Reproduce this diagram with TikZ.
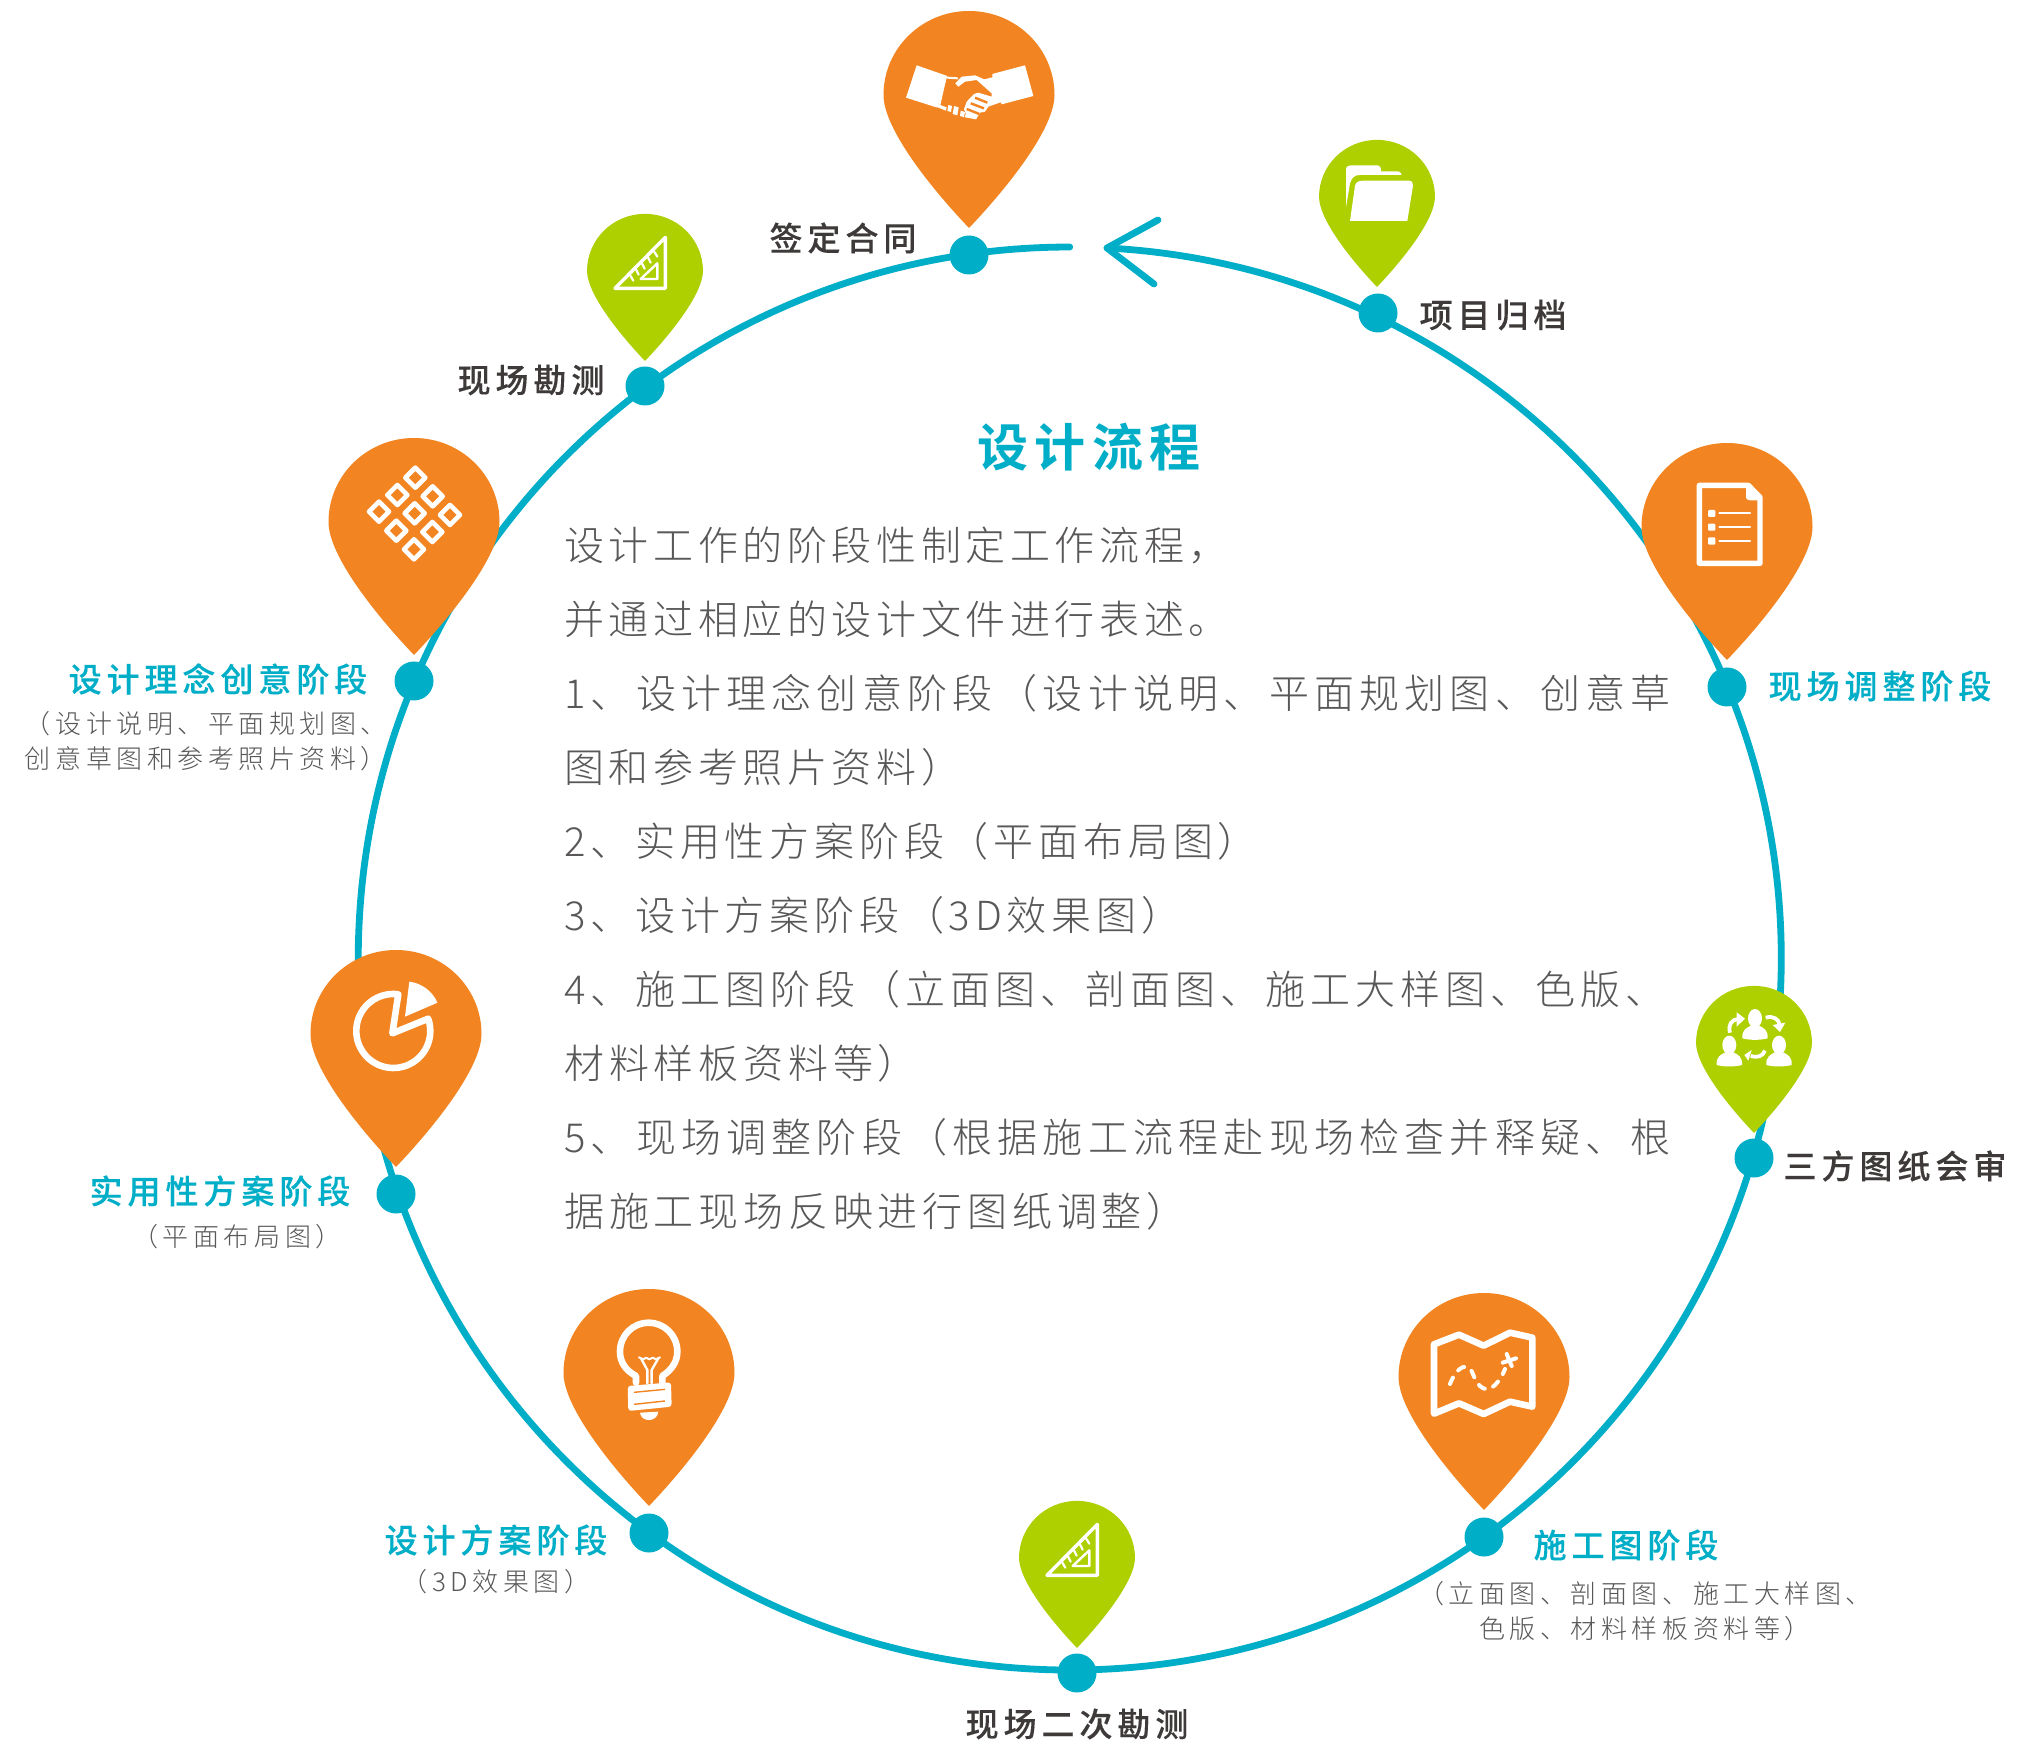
\documentclass[tikz,border=0pt]{standalone}
\usepackage{fontspec}
\newfontfamily\bodyf[LetterSpace=13]{Noto Sans CJK SC Light}
\newfontfamily\bodyg[LetterSpace=12]{Noto Sans CJK SC Light}
\newfontfamily\bodyh[LetterSpace=11.5]{Noto Sans CJK SC Light}
\newfontfamily\bodyi[LetterSpace=12.5]{Noto Sans CJK SC Light}
\newfontfamily\smallf[LetterSpace=17.5]{Noto Sans CJK SC Light}
\newfontfamily\boldf[LetterSpace=15,FakeBold=0.25]{Noto Sans CJK SC Medium}
\newfontfamily\titlef[LetterSpace=12]{Noto Sans CJK SC Bold}
\definecolor{teal}{HTML}{00AEC7}
\definecolor{pinor}{HTML}{F28421}
\definecolor{pingr}{HTML}{AECF00}
\definecolor{darktx}{HTML}{3E3A39}
\definecolor{graytx}{HTML}{595757}
\tikzset{
  ring/.style={draw=teal,line width=3.4pt,line cap=round,line join=round},
  dotn/.style={circle,fill=teal,inner sep=0pt,minimum size=19.5pt},
  zm/.style 2 args={shift={(#1,#2)},scale=1/3},
  body/.style={anchor=west,inner sep=0pt,text=graytx,font=\bodyf\fontsize{20pt}{20pt}\selectfont},
  bodyG/.style={body,font=\bodyg\fontsize{20pt}{20pt}\selectfont},
  bodyH/.style={body,font=\bodyh\fontsize{20pt}{20pt}\selectfont},
  bodyI/.style={body,font=\bodyi\fontsize{20pt}{20pt}\selectfont},
  lab/.style={anchor=center,inner sep=0pt,text=darktx,font=\boldf\fontsize{16.5pt}{16.5pt}\selectfont},
  tlab/.style={lab,text=teal},
  smalllab/.style={anchor=center,inner sep=0pt,text=graytx,font=\smallf\fontsize{13pt}{13pt}\selectfont},
  wl/.style={draw=white,line join=round,line cap=round,line width=#1pt},
}
\newcommand\mkpin[4]{\begin{scope}[shift={(#1,#2)},scale=#3]
  \fill[#4] (0,0) .. controls (-40,-42) and (-85.5,-100) .. (-85.5,-133)
   .. controls (-85.5,-179.4) and (-47.2,-217) .. (0,-217)
   .. controls (47.2,-217) and (85.5,-179.4) .. (85.5,-133)
   .. controls (85.5,-100) and (40,-42) .. (0,0) -- cycle;
 \end{scope}}
\newcommand\rulericon[2]{\begin{scope}[zm={#1}{#2}]
  \draw[wl=1.7] (105,235) -- (256,82) -- (256,235) -- cycle;
  \draw[wl=1.2] (182,207) -- (232,160) -- (232,207) -- cycle;
  \foreach \a/\b/\c/\d in {150/195/160/212,168/178/176/194,186/160/194/176,204/142/212/158,222/124/232/140}
    \draw[wl=1.1] (\a,\b) -- (\c,\d);
 \end{scope}}
\begin{document}
\begin{tikzpicture}[x=0.5pt,y=-0.5pt]
\useasboundingbox (0,0) rectangle (2026,1759);
\fill[white] (0,0) rectangle (2026,1759);
% ring
\coordinate (tip) at (1107,248);
\coordinate (ha) at (1158,220);
\coordinate (hb) at (1154,284);
\draw[ring] (tip) arc[start angle=273,end angle=630,radius=711.5];
\draw[ring] (ha) -- (tip) -- (hb);
% pins
\mkpin{969}{228}{1}{pinor}
\mkpin{1377}{287}{0.678}{pingr}
\mkpin{1727}{660}{1}{pinor}
\mkpin{1754}{1133}{0.678}{pingr}
\mkpin{1484}{1510}{1}{pinor}
\mkpin{1077}{1648}{0.678}{pingr}
\mkpin{649}{1506}{1}{pinor}
\mkpin{396}{1167}{1}{pinor}
\mkpin{414}{655}{1}{pinor}
\mkpin{645}{361}{0.678}{pingr}
% dots
\node[dotn] (d1) at (969,255) {};
\node[dotn] (d2) at (1378,313) {};
\node[dotn] (d3) at (1727,687) {};
\node[dotn] (d4) at (1754,1158) {};
\node[dotn] (d5) at (1484,1537) {};
\node[dotn] (d6) at (1077,1673) {};
\node[dotn] (d7) at (649,1533) {};
\node[dotn] (d8) at (396,1194) {};
\node[dotn] (d9) at (414,681) {};
\node[dotn] (d10) at (645,386) {};
% handshake
\begin{scope}[zm={850}{0}]
 \fill[white] (200,196) -- (292,228) -- (262,323) -- (168,293) -- cycle;
 \fill[white] (403,238) -- (427,232) -- (427,222) -- (525,196) -- (550,288) -- (455,313) -- (452,307) -- (415,320) -- (405,335) -- (390,338) -- (378,358) -- (345,352) -- (347,340) -- (342,328) -- (350,305) -- (372,282) -- (385,278) -- (425,290) -- (425,280) -- (380,240) -- (345,245) -- (325,260) -- (316,250) -- (335,230) -- (375,226) -- cycle;
 \draw[pinor,line width=1.2pt] (375,293) -- (412,308) (362,310) -- (402,325) (350,327) -- (388,342);
 \draw[wl=1] (292,233) -- (322,235);
 \draw[wl=1] (285,240) -- (268,315);
 \fill[white] (265,313) -- (290,322) -- (288,332) -- (263,322) -- cycle;
 \fill[white] (295,315) -- (306,318) -- (303,336) -- (292,333) -- cycle;
 \fill[white] (312,318) -- (326,322) -- (322,346) -- (308,342) -- cycle;
 \fill[white] (332,332) -- (345,336) -- (342,352) -- (330,348) -- cycle;
\end{scope}
% folder
\begin{scope}[zm={1250}{120}]
 \fill[white] (288,262) -- (288,150) .. controls (288,140) and (294,136) .. (302,136) -- (380,136) .. controls (390,136) and (393,142) .. (393,154) -- (440,154) .. controls (450,154) and (453,158) .. (455,165) -- (330,165) .. controls (315,165) and (305,172) .. (300,190) -- cycle;
 \fill[white] (300,303) -- (315,197) .. controls (318,186) and (326,182) .. (340,182) -- (475,182) .. controls (486,182) and (490,188) .. (489,197) -- (472,303) -- cycle;
\end{scope}
% document
\begin{scope}[zm={1620}{430}]
 \draw[wl=2.7] (238,166) -- (385,166) -- (420,202) -- (420,400) -- (238,400) -- cycle;
 \fill[white] (378,170) -- (378,198) .. controls (378,208) and (382,211) .. (390,211) -- (420,211) -- (385,170) -- cycle;
 \fill[white,rounded corners=0.5pt] (264,240) rectangle (286,261) (264,281) rectangle (286,302) (264,322) rectangle (286,344);
 \draw[wl=1] (298,250) -- (390,250) (298,291) -- (390,291) (298,332) -- (390,332);
\end{scope}
% people
\begin{scope}[zm={1680}{970}]
 \foreach \cx/\cy in {225/145,148/225,297/225}{
  \fill[white] (\cx,\cy) ellipse[x radius=21,y radius=28];
  \fill[white] (\cx-38,\cy+60) .. controls (\cx-40,\cy+35) and (\cx-25,\cy+28) .. (\cx-12,\cy+22) -- (\cx+12,\cy+22) .. controls (\cx+25,\cy+28) and (\cx+40,\cy+35) .. (\cx+38,\cy+60) .. controls (\cx+15,\cy+66) and (\cx-15,\cy+66) .. (\cx-38,\cy+60) -- cycle;
 }
 \draw[wl=1.9,line cap=butt] (150,188) .. controls (143,165) and (155,148) .. (175,147);
 \fill[white] (170,127) -- (195,146) -- (170,170) -- cycle;
 \draw[wl=1.9,line cap=butt] (257,143) .. controls (280,136) and (297,148) .. (299,165);
 \fill[white] (278,165) -- (316,158) -- (300,186) -- cycle;
 \draw[wl=1.9,line cap=butt] (255,242) .. controls (248,260) and (230,264) .. (212,258);
 \fill[white] (215,240) -- (193,255) -- (205,272) -- cycle;
\end{scope}
% map
\begin{scope}[zm={1390}{1290}]
 \draw[wl=3.3] (132,163) -- (207,134) -- (281,167) -- (360,128) -- (427,143) -- (427,350) -- (360,335) -- (281,372) -- (207,340) -- (132,371) -- cycle;
 \draw[wl=2,dash pattern=on 3.5pt off 4.5pt] (180,282) .. controls (200,230) and (235,210) .. (250,255) .. controls (265,295) and (290,310) .. (315,285) .. controls (330,270) and (338,255) .. (345,237);
 \draw[wl=2] (338,218) -- (378,205) (350,192) -- (365,228);
\end{scope}
% bulb
\begin{scope}[zm={560}{1290}]
 \draw[wl=3.3] (228,278) -- (228,258) .. controls (195,240) and (180,215) .. (180,185) .. controls (180,135) and (220,98) .. (266,98) .. controls (312,98) and (352,135) .. (352,185) .. controls (352,215) and (335,240) .. (307,258) -- (307,278);
 \draw[wl=1] (237,202) -- (250,208) -- (258,203) -- (268,208) -- (278,203) -- (288,208) -- (300,202);
 \draw[wl=1.2] (243,205) -- (262,240) -- (262,280) (295,205) -- (275,240) -- (275,280);
 \fill[white,rounded corners=1.5pt] (203,288) -- (333,277) -- (335,350) -- (205,363) -- cycle;
 \draw[pinor,line width=0.7pt] (222,307) -- (315,298) (222,343) -- (315,333);
 \fill[white] (240,368) .. controls (243,398) and (292,398) .. (295,365) -- cycle;
\end{scope}
% pie
\begin{scope}[zm={310}{950}]
 \draw[wl=3.3] (265,133) arc[start angle=277.8,end angle=-19.4,radius=111] -- (247,250) -- cycle;
 \fill[white,line join=round] (298,95) arc[start angle=277,end angle=336.6,radius=106] -- (285,200) -- cycle;
\end{scope}
% diamonds
\begin{scope}[zm={340}{440}]
 \foreach \cx/\cy in {226/113,172/165,117/215,278/169,224/220,169/272,330/225,277/276,222/328}
  \draw[wl=2.3] (\cx,\cy-30) -- (\cx+30,\cy) -- (\cx,\cy+30) -- (\cx-30,\cy) -- cycle;
\end{scope}
% rulers
\rulericon{580}{210}
\rulericon{1012}{1497}
% title and body
\node[anchor=center,inner sep=0pt,text=teal,font=\titlef\fontsize{25.5pt}{25.5pt}\selectfont] (title) at (1089,447) {设计流程};
\node[bodyH] (b1) at (564,545) {设计工作的阶段性制定工作流程，};
\node[bodyH] (b2) at (564,619) {并通过相应的设计文件进行表述。};
\node[body] (b3) at (564,693) {1、设计理念创意阶段（设计说明、平面规划图、创意草};
\node[bodyH] (b4) at (564,767) {图和参考照片资料）};
\node[bodyG] (b5) at (564,841) {2、实用性方案阶段（平面布局图）};
\node[bodyG] (b6) at (564,915) {3、设计方案阶段（3D效果图）};
\node[bodyI] (b7) at (564,989) {4、施工图阶段（立面图、剖面图、施工大样图、色版、};
\node[bodyG] (b8) at (564,1063) {材料样板资料等）};
\node[body] (b9) at (564,1137) {5、现场调整阶段（根据施工流程赴现场检查并释疑、根};
\node[bodyG] (b10) at (564,1211) {据施工现场反映进行图纸调整）};
% labels
\node[lab] (l1) at (843,238) {签定合同};
\node[lab] (l2) at (1493,315) {项目归档};
\node[tlab] (l3) at (1880,686) {现场调整阶段};
\node[lab] (l4) at (1895,1166) {三方图纸会审};
\node[tlab] (l5) at (1626,1545) {施工图阶段};
\node[smalllab] (s5a) at (1645,1594) {（立面图、剖面图、施工大样图、};
\node[smalllab] (s5b) at (1645,1629) {色版、材料样板资料等）};
\node[lab] (l6) at (1077,1724) {现场二次勘测};
\node[tlab] (l7) at (496,1540) {设计方案阶段};
\node[smalllab] (s7) at (496,1582) {（3D效果图）};
\node[tlab] (l8) at (220,1191) {实用性方案阶段};
\node[smalllab] (s8) at (237,1237) {（平面布局图）};
\node[tlab] (l9) at (218,679) {设计理念创意阶段};
\node[smalllab] (s9a) at (206,724) {（设计说明、平面规划图、};
\node[smalllab] (s9b) at (206,759) {创意草图和参考照片资料）};
\node[lab] (l10) at (531,380) {现场勘测};
\end{tikzpicture}
\end{document}
